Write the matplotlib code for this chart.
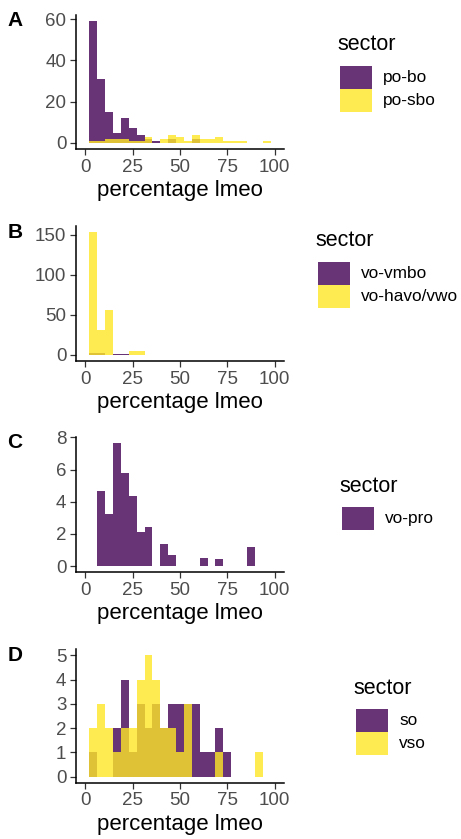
import numpy as np
import matplotlib
matplotlib.use("Agg")
import matplotlib.pyplot as plt
from matplotlib.patches import Rectangle

plt.rcParams['font.family'] = ['Liberation Sans', 'DejaVu Sans']

# ---------------- data (histogram counts per bin) ----------------
bin_width = 100 / 24          # bins centred on multiples of bin_width

A_purple = [59, 31, 15, 5, 12, 7, 4, 2, 1, 0, 2, 0, 0, 2]
A_yellow = [1, 1, 2, 2, 2, 1, 1, 3, 0, 2, 4, 3, 1, 4, 2, 2, 3, 1, 1, 1, 0, 0, 1]
A_labels = ["po-bo", "po-sbo"]

B_purple = [2, 2, 0, 1, 1]
B_yellow = [153, 31, 56, 0, 0, 5, 5]
B_labels = ["vo-vmbo", "vo-havo/vwo"]

C_purple = [0, 4.65, 3.27, 7.66, 5.78, 4.38, 2.14, 2.45, 0, 1.40, 0.69,
            0, 0, 0, 0.50, 0, 0.42, 0, 0, 0, 1.17]
C_labels = ["vo-pro"]

D_purple = [1, 0, 0, 2, 4, 1, 3, 2, 3, 2, 3, 3, 3, 3, 1, 1, 2, 1]
D_yellow = [2, 3, 2, 1, 2, 2, 4, 5, 4, 2, 2, 1, 3, 0, 0, 0, 1, 0, 0, 0, 0, 1]
D_labels = ["so", "vso"]

x_ticks = [0, 25, 50, 75, 100]
y_ticks = {"A": [0, 20, 40, 60], "B": [0, 50, 100, 150],
           "C": [0, 2, 4, 6, 8], "D": [0, 1, 2, 3, 4, 5]}
x_title = "percentage lmeo"
legend_title = "sector"

PURPLE = "#440154"
YELLOW = "#FDE725"
ALPHA = 0.8

W, H = 461, 839
fig = plt.figure(figsize=(W / 100, H / 100), dpi=100)


def fx(x):
    return x / W


def fy(y):
    return 1 - y / H


def centers(counts):
    return (np.arange(len(counts)) + 1) * bin_width


def panel(letter, top, bottom, series, labels, leg_x, leg_title_y):
    ax = fig.add_axes([fx(76), fy(bottom), fx(284) - fx(76), (bottom - top) / H])
    ymax = 0
    for counts, col in series:
        c = np.asarray(counts, dtype=float)
        xs = centers(c)
        m = c > 0
        ax.bar(xs[m], c[m], width=bin_width, color=col, alpha=ALPHA,
               linewidth=0, align="center")
        ymax = max(ymax, c.max())
    ax.set_xlim(-5, 105)
    ax.set_ylim(-0.05 * ymax, 1.05 * ymax)
    ax.set_xticks(x_ticks)
    ax.set_yticks(y_ticks[letter])
    for s in ["top", "right"]:
        ax.spines[s].set_visible(False)
    for s in ["left", "bottom"]:
        ax.spines[s].set_linewidth(1.1)
        ax.spines[s].set_color("black")
    ax.tick_params(axis="both", colors="#333333", length=4, width=0.9,
                   labelcolor="#4D4D4D", labelsize=13.5, pad=3)
    ax.set_xlabel(x_title, fontsize=16, labelpad=3)
    ax.patch.set_alpha(0)
    fig.text(fx(15), fy(top + 6), letter, fontsize=15, fontweight="bold",
             ha="center", va="center")
    # legend
    fig.text(fx(leg_x - 3), fy(leg_title_y), legend_title, fontsize=15.5,
             ha="left", va="center")
    key_w, key_h = 32, 22.5
    y0 = leg_title_y + 21
    for i, (lab, (_, col)) in enumerate(zip(labels, series)):
        yk = y0 + i * (key_h + 0.5)
        fig.add_artist(Rectangle((fx(leg_x), fy(yk + key_h)), key_w / W, key_h / H,
                                 transform=fig.transFigure, facecolor=col,
                                 alpha=ALPHA, edgecolor="none"))
        fig.text(fx(leg_x + key_w + 11), fy(yk + key_h / 2), lab, fontsize=12.4,
                 ha="left", va="center")
    return ax


panel("A", 15, 149, [(A_purple, PURPLE), (A_yellow, YELLOW)], A_labels, 340, 45)
panel("B", 226, 361, [(B_purple, PURPLE), (B_yellow, YELLOW)], B_labels, 318, 241)
panel("C", 436.7, 572.3, [(C_purple, PURPLE)], C_labels, 342, 486)
panel("D", 649.3, 782.7, [(D_purple, PURPLE), (D_yellow, YELLOW)], D_labels, 356, 688)

fig.savefig("out.png", dpi=100, facecolor="white")
